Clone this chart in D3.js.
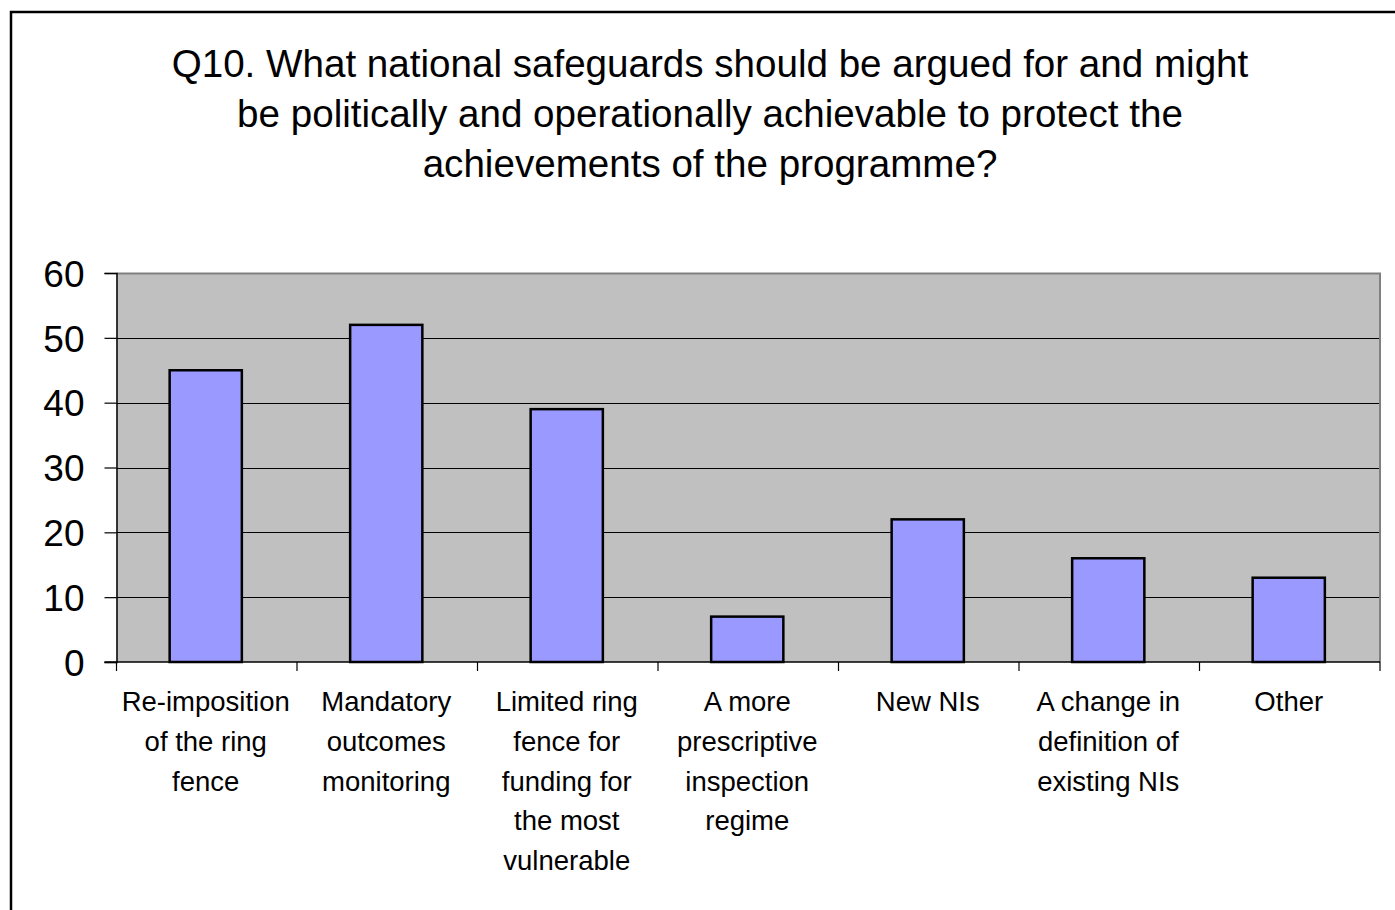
<!DOCTYPE html>
<html>
<head>
<meta charset="utf-8">
<script src="https://cdn.jsdelivr.net/npm/d3@7"></script>
<style>
  html, body { margin: 0; padding: 0; background: #fff; }
  svg { display: block; }
  text { font-family: "Liberation Sans", Arial, sans-serif; fill: #000; }
</style>
</head>
<body>
<svg id="chart" width="1395" height="910"></svg>
<script>
// Survey responses per proposed safeguard
const titleLines = [
  "Q10. What national safeguards should be argued for and might",
  "be politically and operationally achievable to protect the",
  "achievements of the programme?"
];
const categories = [
  ["Re-imposition", "of the ring", "fence"],
  ["Mandatory", "outcomes", "monitoring"],
  ["Limited ring", "fence for", "funding for", "the most", "vulnerable"],
  ["A more", "prescriptive", "inspection", "regime"],
  ["New  NIs"],
  ["A change in", "definition of", "existing NIs"],
  ["Other"]
];
const values = [45, 52, 39, 7, 22, 16, 13];
const yTicks = [0, 10, 20, 30, 40, 50, 60];

const svg = d3.select("#chart");

// outer chart frame
svg.append("rect")
  .attr("x", 11).attr("y", 12)
  .attr("width", 1420).attr("height", 1000)
  .attr("fill", "#fff").attr("stroke", "#000").attr("stroke-width", 2.5);

// title
const title = svg.append("text")
  .attr("text-anchor", "middle")
  .style("font-size", "38.6px");
titleLines.forEach((line, i) => {
  title.append("tspan")
    .attr("x", 710).attr("y", 77 + i * 50)
    .text(line);
});

const plot = { left: 116.5, right: 1380, top: 273, bottom: 662 };

const x = d3.scaleBand()
  .domain(d3.range(categories.length))
  .range([plot.left, plot.right])
  .padding(0);

const y = d3.scaleLinear()
  .domain([0, 60])
  .range([plot.bottom, plot.top]);

// plot area background
svg.append("rect")
  .attr("x", plot.left).attr("y", plot.top)
  .attr("width", plot.right - plot.left).attr("height", plot.bottom - plot.top)
  .attr("fill", "#c0c0c0");

// horizontal gridlines
svg.append("g")
  .selectAll("line")
  .data(yTicks.filter(d => d > 0 && d < 60))
  .join("line")
  .attr("x1", plot.left).attr("x2", plot.right)
  .attr("y1", d => Math.round(y(d)) + 0.5).attr("y2", d => Math.round(y(d)) + 0.5)
  .attr("stroke", "#000").attr("stroke-width", 1);

// gray top and right border of plot area
svg.append("path")
  .attr("d", `M${plot.left},${plot.top + 0.5}H${plot.right}V${plot.bottom}`)
  .attr("fill", "none").attr("stroke", "#808080").attr("stroke-width", 2);

// bars
const barW = x.bandwidth() * 0.4;
svg.append("g")
  .selectAll("rect")
  .data(values)
  .join("rect")
  .attr("x", (d, i) => x(i) + (x.bandwidth() - barW) / 2 - 1)
  .attr("y", d => y(d))
  .attr("width", barW)
  .attr("height", d => y(0) - y(d))
  .attr("fill", "#9999ff")
  .attr("stroke", "#000").attr("stroke-width", 2.5);

// y axis
const yAxis = svg.append("g")
  .attr("transform", `translate(${plot.left},0)`)
  .call(d3.axisLeft(y).tickValues(yTicks).tickSize(12).tickPadding(20));
yAxis.select(".domain").attr("stroke", "#000").attr("stroke-width", 1.5);
yAxis.selectAll(".tick line").attr("stroke", "#000").attr("stroke-width", 1.2);
yAxis.selectAll(".tick text")
  .style("font-size", "37px")
  .style("font-family", "'Liberation Sans', Arial, sans-serif")
  .attr("fill", "#000")
  .attr("dy", "0.36em");

// x axis with ticks at category boundaries
const xAxisG = svg.append("g")
  .attr("transform", `translate(0,${plot.bottom})`);
xAxisG.append("line")
  .attr("x1", plot.left - 12).attr("x2", plot.right)
  .attr("y1", 0).attr("y2", 0)
  .attr("stroke", "#000").attr("stroke-width", 1.5);
const boundaries = d3.range(categories.length + 1).map(i =>
  i < categories.length ? x(i) : x(categories.length - 1) + x.bandwidth());
xAxisG.selectAll("line.tk")
  .data(boundaries)
  .join("line")
  .attr("class", "tk")
  .attr("x1", d => d).attr("x2", d => d)
  .attr("y1", 0).attr("y2", 9)
  .attr("stroke", "#000").attr("stroke-width", 1.2);

// category labels, multi-line
const labels = svg.append("g");
categories.forEach((lines, i) => {
  const cx = x(i) + x.bandwidth() / 2 - 1;
  const t = labels.append("text")
    .attr("text-anchor", "middle")
    .attr("transform", `translate(${cx},0)`)
    .style("font-size", "27.5px");
  lines.forEach((ln, j) => {
    t.append("tspan")
      .attr("x", 0).attr("y", 711 + j * 39.8)
      .text(ln);
  });
});
</script>
</body>
</html>
